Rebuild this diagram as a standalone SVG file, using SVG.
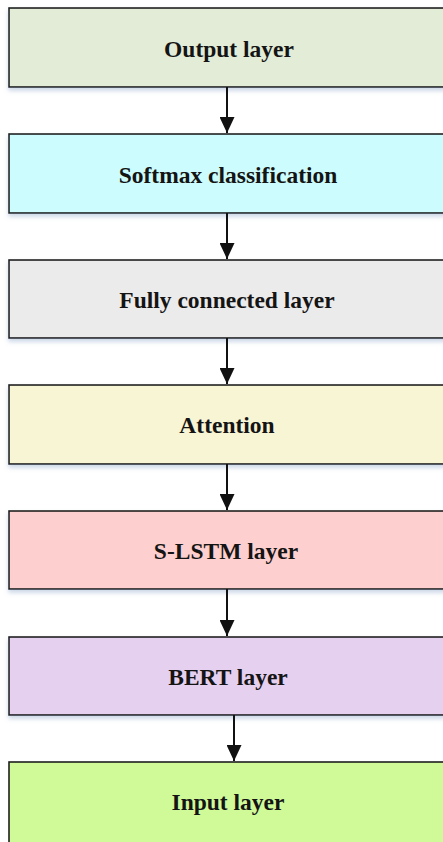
<svg xmlns="http://www.w3.org/2000/svg" width="443" height="842" viewBox="0 0 443 842">
<style>
.box{stroke:#1e1e1e;stroke-width:1.6}
.lbl{font-family:"Liberation Serif","Times New Roman",serif;font-weight:bold;font-size:23.5px;fill:#141414;text-anchor:middle}
.conn line{stroke:#111;stroke-width:2}
</style>
<defs>
<marker id="ah" markerWidth="16" markerHeight="15" refX="16" refY="7.5" orient="auto" markerUnits="userSpaceOnUse" viewBox="0 0 16 15">
<path d="M0,0 L16,7.5 L0,15 Z" fill="#111"/>
</marker>
<filter id="sh" x="-5%" y="-10%" width="110%" height="130%">
<feDropShadow dx="0" dy="3" stdDeviation="2" flood-color="#9bb0d0" flood-opacity="0.5"/>
</filter>
</defs>
<rect width="443" height="842" fill="#fff"/>
<g id="output"><rect class="box" x="9" y="8" width="450" height="79" fill="#e2ecd6" filter="url(#sh)"/><text class="lbl" x="229" y="57">Output layer</text></g>
<g id="softmax"><rect class="box" x="9" y="134" width="450" height="79" fill="#ccfcfd" filter="url(#sh)"/><text class="lbl" x="228" y="183">Softmax classification</text></g>
<g id="fc"><rect class="box" x="9" y="260" width="450" height="78" fill="#ebebeb" filter="url(#sh)"/><text class="lbl" x="227" y="308">Fully connected layer</text></g>
<g id="attention"><rect class="box" x="9" y="385" width="450" height="79" fill="#f8f5d4" filter="url(#sh)"/><text class="lbl" x="227" y="433">Attention</text></g>
<g id="slstm"><rect class="box" x="9" y="511" width="450" height="78" fill="#fdcfcf" filter="url(#sh)"/><text class="lbl" x="226" y="559">S-LSTM layer</text></g>
<g id="bert"><rect class="box" x="9" y="637" width="450" height="78" fill="#e6d0f0" filter="url(#sh)"/><text class="lbl" x="228" y="685">BERT layer</text></g>
<g id="input"><rect class="box" x="9" y="762" width="450" height="90" fill="#d0fa98"/><text class="lbl" x="228" y="810">Input layer</text></g>
<g id="connectors" class="conn">
<line x1="227" y1="87" x2="227" y2="133" marker-end="url(#ah)"/>
<line x1="227" y1="213" x2="227" y2="259" marker-end="url(#ah)"/>
<line x1="227" y1="338" x2="227" y2="384" marker-end="url(#ah)"/>
<line x1="227" y1="464" x2="227" y2="510" marker-end="url(#ah)"/>
<line x1="227" y1="589" x2="227" y2="636" marker-end="url(#ah)"/>
<line x1="234" y1="715" x2="234" y2="761" marker-end="url(#ah)"/>
</g>
</svg>
